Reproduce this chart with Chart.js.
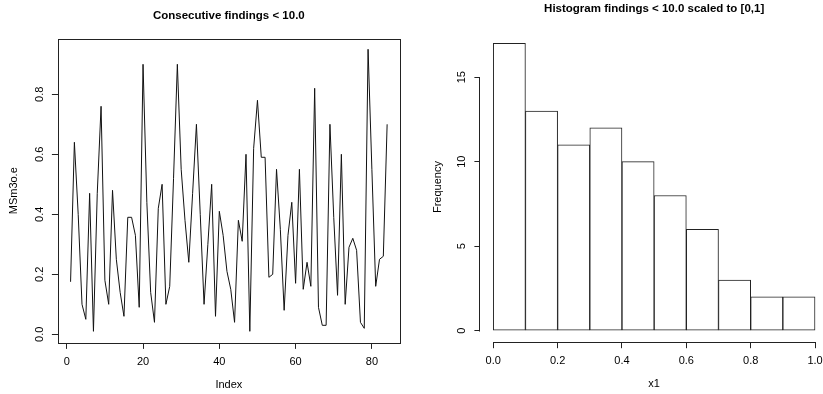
<!DOCTYPE html>
<html>
<head>
<meta charset="utf-8">
<script src="https://cdn.jsdelivr.net/npm/chart.js@4"></script>
<style>
  html, body { margin: 0; padding: 0; background: #fff; overflow: hidden; width: 823px; height: 394px; }
  #wrap { position: relative; width: 823px; height: 394px; overflow: hidden; }
  canvas { position: absolute; top: 0; }
  #lineChart { left: 0; }
  #histChart { left: 411px; }
</style>
</head>
<body>
<div id="wrap">
  <canvas id="lineChart" width="411" height="394"></canvas>
  <canvas id="histChart" width="420" height="394"></canvas>
</div>
<script>
const findings = [
  0.175, 0.64, 0.40, 0.10, 0.05, 0.47, 0.01, 0.47, 0.76, 0.18,
  0.10, 0.48, 0.25, 0.14, 0.06, 0.39, 0.39, 0.33, 0.09, 0.90,
  0.44, 0.14, 0.04, 0.42, 0.50, 0.10, 0.16, 0.52, 0.90, 0.55,
  0.38, 0.24, 0.47, 0.70, 0.40, 0.10, 0.30, 0.50, 0.06, 0.41,
  0.33, 0.21, 0.15, 0.04, 0.38, 0.31, 0.60, 0.01, 0.62, 0.78,
  0.59, 0.59, 0.19, 0.20, 0.55, 0.35, 0.08, 0.33, 0.44, 0.17,
  0.55, 0.15, 0.24, 0.16, 0.82, 0.09, 0.03, 0.03, 0.70, 0.39,
  0.13, 0.60, 0.10, 0.29, 0.32, 0.28, 0.04, 0.02, 0.95, 0.55,
  0.16, 0.25, 0.26, 0.70
];

// histogram of the scaled values
const binCenters = [0.05, 0.15, 0.25, 0.35, 0.45, 0.55, 0.65, 0.75, 0.85, 0.95];
const binCounts = [17, 13, 11, 12, 10, 8, 6, 3, 2, 2];

const fontFamily = '"Liberation Sans", Arial, Helvetica, sans-serif';
Chart.defaults.font.family = fontFamily;
Chart.defaults.font.size = 11;
Chart.defaults.color = '#000';

const lineCol = '#222';

// main title, centred over the plot region like R does
const mainTitle = {
  id: 'mainTitle',
  afterDraw(chart, args, opts) {
    const { ctx, chartArea } = chart;
    ctx.save();
    ctx.font = 'bold 11.5px ' + fontFamily;
    ctx.fillStyle = '#000';
    ctx.textAlign = 'center';
    ctx.textBaseline = 'middle';
    ctx.fillText(opts.text, (chartArea.left + chartArea.right) / 2, opts.y);
    ctx.restore();
  }
};

// box around the plot region
const boxPlugin = {
  id: 'box',
  afterDraw(chart) {
    const { ctx, chartArea: a } = chart;
    ctx.save();
    ctx.strokeStyle = lineCol;
    ctx.lineWidth = 1;
    ctx.strokeRect(Math.round(a.left) + 0.5, Math.round(a.top) + 0.5,
      Math.round(a.right - a.left), Math.round(a.bottom - a.top));
    ctx.restore();
  }
};

// R style axis lines that only run between the first and last tick
const rAxes = {
  id: 'rAxes',
  afterDraw(chart, args, opts) {
    const { ctx, chartArea: a, scales } = chart;
    const x = scales.x, y = scales.y;
    const x0 = Math.round(x.getPixelForValue(opts.xFrom)) + 0.5;
    const x1 = Math.round(x.getPixelForValue(opts.xTo)) + 0.5;
    const y0 = Math.round(y.getPixelForValue(opts.yFrom)) + 0.5;
    const y1 = Math.round(y.getPixelForValue(opts.yTo)) + 0.5;
    const by = Math.round(a.bottom) + 0.5;
    const lx = Math.round(a.left) - 0.5;
    ctx.save();
    ctx.lineWidth = 1;
    ctx.strokeStyle = lineCol;
    ctx.beginPath();
    ctx.moveTo(x0, by);
    ctx.lineTo(x1, by);
    ctx.moveTo(lx, y0);
    ctx.lineTo(lx, y1);
    ctx.stroke();
    ctx.restore();
  }
};

function tickGrid() {
  return { display: true, drawOnChartArea: false, drawTicks: true, tickLength: 6, color: lineCol, lineWidth: 1, offset: false };
}

new Chart(document.getElementById('lineChart'), {
  type: 'line',
  data: {
    datasets: [{
      data: findings.map((v, i) => ({ x: i + 1, y: v })),
      borderColor: '#111',
      borderWidth: 1,
      pointRadius: 0,
      tension: 0,
      fill: false
    }]
  },
  plugins: [mainTitle, boxPlugin],
  options: {
    responsive: false,
    animation: false,
    devicePixelRatio: 1,
    layout: { padding: { left: 0, top: 38.6, right: 11.2, bottom: 0 } },
    plugins: {
      legend: { display: false },
      tooltip: { enabled: false },
      mainTitle: { text: 'Consecutive findings < 10.0', y: 15.8 }
    },
    scales: {
      x: {
        type: 'linear',
        min: -2.32,
        max: 87.32,
        grid: tickGrid(),
        border: { display: false },
        ticks: { stepSize: 20, includeBounds: false, padding: 6, maxRotation: 0 },
        title: { display: true, text: 'Index', padding: { top: 0, bottom: 2.4 }, font: { size: 11 } },
        afterFit(s) { s.height = 51.1; }
      },
      y: {
        min: -0.0286,
        max: 0.9856,
        grid: tickGrid(),
        border: { display: false },
        ticks: {
          stepSize: 0.2, includeBounds: false, padding: 4.5,
          minRotation: 90, maxRotation: 90, crossAlign: 'center',
          callback: v => v.toFixed(1)
        },
        title: { display: true, text: 'MSm3o.e', padding: { top: 7.4, bottom: 0 }, font: { size: 11 } },
        afterFit(s) { s.width = 57.9; }
      }
    }
  }
});

new Chart(document.getElementById('histChart'), {
  type: 'bar',
  data: {
    datasets: [{
      data: binCenters.map((c, i) => ({ x: c, y: binCounts[i] })),
      backgroundColor: '#fff',
      borderColor: lineCol,
      borderWidth: 1,
      borderSkipped: false,
      barPercentage: 1,
      categoryPercentage: 1
    }]
  },
  plugins: [mainTitle, rAxes],
  options: {
    responsive: false,
    animation: false,
    devicePixelRatio: 1,
    layout: { padding: { left: 0, top: 31.9, right: 3.1, bottom: 0 } },
    plugins: {
      legend: { display: false },
      tooltip: { enabled: false },
      mainTitle: { text: 'Histogram findings < 10.0 scaled to [0,1]', y: 8.8 },
      rAxes: { xFrom: 0, xTo: 1, yFrom: 0, yTo: 15 }
    },
    scales: {
      x: {
        type: 'linear',
        offset: false,
        min: -0.04,
        max: 1.04,
        grid: tickGrid(),
        border: { display: false },
        ticks: { stepSize: 0.2, includeBounds: false, padding: 6, maxRotation: 0, callback: v => v.toFixed(1) },
        title: { display: true, text: 'x1', padding: { top: 0, bottom: 3.4 }, font: { size: 11 } },
        afterFit(s) { s.height = 51.8; }
      },
      y: {
        min: -0.68,
        max: 17.68,
        grid: tickGrid(),
        border: { display: false },
        ticks: {
          stepSize: 5, includeBounds: false, padding: 6.6,
          minRotation: 90, maxRotation: 90, crossAlign: 'center'
        },
        title: { display: true, text: 'Frequency', padding: { top: 20.4, bottom: 0 }, font: { size: 11 } },
        afterFit(s) { s.width = 69.4; }
      }
    }
  }
});
</script>
</body>
</html>
